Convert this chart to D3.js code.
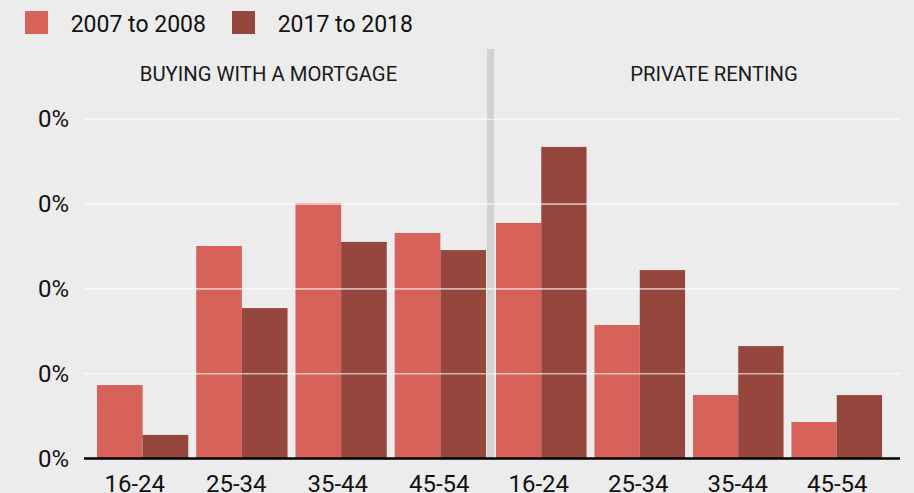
<!DOCTYPE html>
<html>
<head>
<meta charset="utf-8">
<script src="https://cdn.jsdelivr.net/npm/d3@7.9.0/dist/d3.min.js"></script>
<style>
  html, body { margin: 0; padding: 0; background: #ececec; }
  svg { display: block; font-family: Roboto, "Noto Sans", sans-serif; }
</style>
</head>
<body>
<svg id="chart"></svg>
<script>
// Data (shares, as fractions)
const ageGroups = ["16-24", "25-34", "35-44", "45-54"];
const tenures = ["BUYING WITH A MORTGAGE", "PRIVATE RENTING"];
const seriesNames = ["2007 to 2008", "2017 to 2018"];
const mortgage2007 = [0.0433, 0.1253, 0.1505, 0.1330];
const mortgage2017 = [0.0139, 0.0887, 0.1277, 0.1229];
const renting2007 = [0.1389, 0.0787, 0.0374, 0.0215];
const renting2017 = [0.1837, 0.1111, 0.0663, 0.0374];
const yTicks = [0, 0.05, 0.10, 0.15, 0.20];

const colors = ["#d6625a", "#96473d"];

const W = 914, H = 493;
const margin = { top: 119.3, right: 14, bottom: 34.5, left: 84 };
const baseY = H - margin.bottom;

const svg = d3.select("#chart").attr("width", W).attr("height", H);

svg.append("rect").attr("width", W).attr("height", H).attr("fill", "#ececec");

// y scale: top tick sits on the 20% line
const y = d3.scaleLinear().domain([0, 0.20]).range([baseY, margin.top]);

// each panel: one scale for bar groups, one for the tick labels
const panels = [
  { title: tenures[0], values: [mortgage2007, mortgage2017], barRange: [93, 490], labelRange: [84, 490], titleX: 268.5 },
  { title: tenures[1], values: [renting2007, renting2017], barRange: [492, 886], labelRange: [489, 887], titleX: 714 }
];

// divider between the two panels
svg.append("rect")
  .attr("x", 487).attr("y", 49)
  .attr("width", 7).attr("height", baseY - 49)
  .attr("fill", "#d3d2d3");

panels.forEach(p => {
  const x0 = d3.scaleBand().domain(ageGroups).range(p.barRange)
    .paddingInner(0.08).paddingOuter(0.04);
  const x1 = d3.scaleBand().domain(seriesNames).range([0, x0.bandwidth()]);
  const xl = d3.scaleBand().domain(ageGroups).range(p.labelRange);

  const rows = ageGroups.map((g, i) => ({ group: g, vals: seriesNames.map((s, j) => ({ s, v: p.values[j][i] })) }));

  const g = svg.append("g");
  g.selectAll("g")
    .data(rows)
    .join("g")
    .attr("transform", d => `translate(${x0(d.group)},0)`)
    .selectAll("rect")
    .data(d => d.vals)
    .join("rect")
    .attr("x", d => x1(d.s))
    .attr("width", x1.bandwidth())
    .attr("y", d => y(d.v))
    .attr("height", d => baseY - y(d.v))
    .attr("fill", (d, j) => colors[j]);

  // x tick labels (cut by the bottom edge, as in the original)
  const ax = svg.append("g")
    .attr("transform", `translate(0,${baseY})`)
    .call(d3.axisBottom(xl).tickSize(0).tickPadding(0));
  ax.select(".domain").remove();
  ax.selectAll("text")
    .attr("y", 33.5).attr("dy", null)
    .attr("font-family", "Roboto, sans-serif")
    .attr("font-size", 24)
    .attr("fill", "#111");

  // panel title
  svg.append("text")
    .attr("x", p.titleX).attr("y", 80.5)
    .attr("text-anchor", "middle")
    .attr("font-size", 20.3)
    .attr("fill", "#1a1a1a")
    .text(p.title);
});

// gridlines on top of the bars
svg.append("g")
  .selectAll("line")
  .data(yTicks.filter(d => d > 0))
  .join("line")
  .attr("x1", margin.left).attr("x2", W - 14)
  .attr("y1", d => y(d)).attr("y2", d => y(d))
  .attr("stroke", "#fff")
  .attr("stroke-opacity", 0.6)
  .attr("stroke-width", 1.6);

// y axis labels
const yAxis = svg.append("g")
  .attr("transform", `translate(69,0)`)
  .call(d3.axisLeft(y).tickValues(yTicks).tickSize(0).tickPadding(0)
    .tickFormat(d => d3.format("d")(d) + "%"));
yAxis.select(".domain").remove();
yAxis.selectAll("text")
  .attr("font-family", "Roboto, sans-serif")
  .attr("font-size", 24)
  .attr("fill", "#111");

// baseline
svg.append("line")
  .attr("x1", margin.left).attr("x2", W - 14)
  .attr("y1", baseY).attr("y2", baseY)
  .attr("stroke", "#000")
  .attr("stroke-width", 2.4);

// legend
const legend = svg.append("g").attr("transform", "translate(25,11)");
const items = legend.selectAll("g")
  .data(seriesNames)
  .join("g")
  .attr("transform", (d, i) => `translate(${i * 207},0)`);
items.append("rect")
  .attr("width", 23).attr("height", 23)
  .attr("fill", (d, i) => colors[i]);
items.append("text")
  .attr("x", 45.7).attr("y", 20.7)
  .attr("font-size", 23)
  .attr("fill", "#111")
  .text(d => d);
</script>
</body>
</html>
